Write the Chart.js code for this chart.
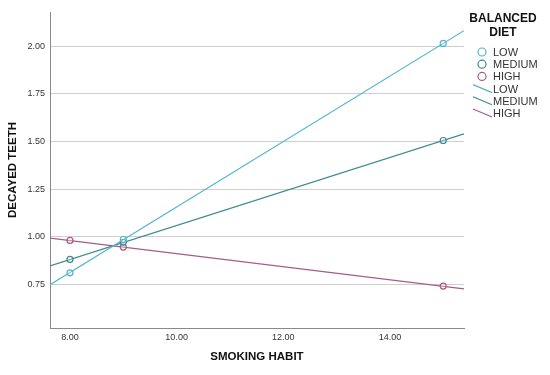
<!DOCTYPE html>
<html>
<head>
<meta charset="utf-8">
<script src="https://cdn.jsdelivr.net/npm/chart.js@4.4.0/dist/chart.umd.min.js"></script>
<style>
  html, body { margin: 0; padding: 0; background: #fff; }
  #wrap { position: relative; width: 550px; height: 375px; }
</style>
</head>
<body>
<div id="wrap"><canvas id="c" width="550" height="375"></canvas></div>
<script>
// ---- data ----
const smokingHabit = [8, 9, 15];
const lowObserved = [0.81, 0.985, 2.015];
const mediumObserved = [0.88, 0.97, 1.505];
const highObserved = [0.98, 0.945, 0.74];

// fit lines: endpoints at the plot edges
const fitX = [7.625, 15.39];
const lowFit = [0.747, 2.082];
const mediumFit = [0.846, 1.540];
const highFit = [0.992, 0.726];

const seriesNames = ['LOW', 'MEDIUM', 'HIGH'];
const xTickValues = [8, 10, 12, 14];
const yTickValues = [0.75, 1.00, 1.25, 1.50, 1.75, 2.00];
const legendTitle = ['BALANCED', 'DIET'];
const xTitle = 'SMOKING HABIT';
const yTitle = 'DECAYED TEETH';

const colors = ['#4fb5cf', '#3e8b8d', '#a65d83'];

function pts(xs, ys) { return xs.map((x, i) => ({ x: x, y: ys[i] })); }

const observed = [lowObserved, mediumObserved, highObserved];
const fits = [lowFit, mediumFit, highFit];

const datasets = [];
observed.forEach((ys, i) => {
  datasets.push({
    label: seriesNames[i],
    kind: 'marker',
    data: pts(smokingHabit, ys),
    showLine: false,
    pointStyle: 'circle',
    pointRadius: 3,
    pointBorderWidth: 1.2,
    pointBorderColor: colors[i],
    pointBackgroundColor: 'rgba(255,255,255,0.3)',
    borderColor: colors[i],
    order: 0
  });
});
fits.forEach((ys, i) => {
  datasets.push({
    label: seriesNames[i],
    kind: 'line',
    data: pts(fitX, ys),
    showLine: true,
    pointRadius: 0,
    borderWidth: 1.2,
    borderColor: colors[i],
    order: 1
  });
});

const legendPlugin = {
  id: 'customLegend',
  afterDraw(chart) {
    const ctx = chart.ctx;
    ctx.save();
    ctx.fillStyle = '#111';
    ctx.font = 'bold 12px "Liberation Sans", Arial, sans-serif';
    ctx.textAlign = 'center';
    ctx.textBaseline = 'middle';
    ctx.fillText(legendTitle[0], 503, 19);
    ctx.fillText(legendTitle[1], 503, 33);
    ctx.font = '11px "Liberation Sans", Arial, sans-serif';
    ctx.textAlign = 'left';
    let y = 52;
    chart.data.datasets.forEach((ds) => {
      ctx.strokeStyle = ds.borderColor;
      ctx.lineWidth = 1.2;
      if (ds.kind === 'marker') {
        ctx.beginPath();
        ctx.arc(482, y, 4, 0, Math.PI * 2);
        ctx.stroke();
      } else {
        ctx.beginPath();
        ctx.moveTo(473, y - 4);
        ctx.lineTo(492, y + 4);
        ctx.stroke();
      }
      ctx.fillStyle = '#333';
      ctx.fillText(ds.label, 493, y + 1);
      y += 12.2;
    });
    ctx.restore();
  }
};

new Chart(document.getElementById('c'), {
  type: 'scatter',
  data: { datasets: datasets },
  plugins: [legendPlugin],
  options: {
    responsive: false,
    animation: false,
    devicePixelRatio: 1,
    layout: { padding: { left: 0, right: 86, top: 12, bottom: 0 } },
    plugins: { legend: { display: false }, tooltip: { enabled: false } },
    scales: {
      x: {
        type: 'linear',
        min: 7.625,
        max: 15.39,
        afterBuildTicks(scale) { scale.ticks = xTickValues.map(v => ({ value: v })); },
        afterFit(scale) { scale.height = 47; },
        ticks: {
          callback: v => Number(v).toFixed(2),
          font: { size: 9, family: '"Liberation Sans", Arial, sans-serif' },
          color: '#333',
          padding: 4,
          maxRotation: 0
        },
        grid: { display: false, drawTicks: false },
        border: { color: '#8a8a8a', width: 1 },
        title: {
          display: true,
          text: xTitle,
          font: { size: 11.5, weight: 'bold', family: '"Liberation Sans", Arial, sans-serif' },
          color: '#111',
          padding: { top: 0, bottom: 11 }
        }
      },
      y: {
        type: 'linear',
        min: 0.52,
        max: 2.18,
        afterBuildTicks(scale) { scale.ticks = yTickValues.map(v => ({ value: v })); },
        afterFit(scale) { scale.width = 50; },
        ticks: {
          callback: v => Number(v).toFixed(2),
          font: { size: 9, family: '"Liberation Sans", Arial, sans-serif' },
          color: '#333',
          padding: 5
        },
        grid: { color: '#cfcfcf', lineWidth: 1, drawTicks: false },
        border: { color: '#8a8a8a', width: 1 },
        title: {
          display: true,
          text: yTitle,
          font: { size: 11.5, weight: 'bold', family: '"Liberation Sans", Arial, sans-serif' },
          color: '#111',
          padding: { top: 6, bottom: 0 }
        }
      }
    }
  }
});
</script>
</body>
</html>
